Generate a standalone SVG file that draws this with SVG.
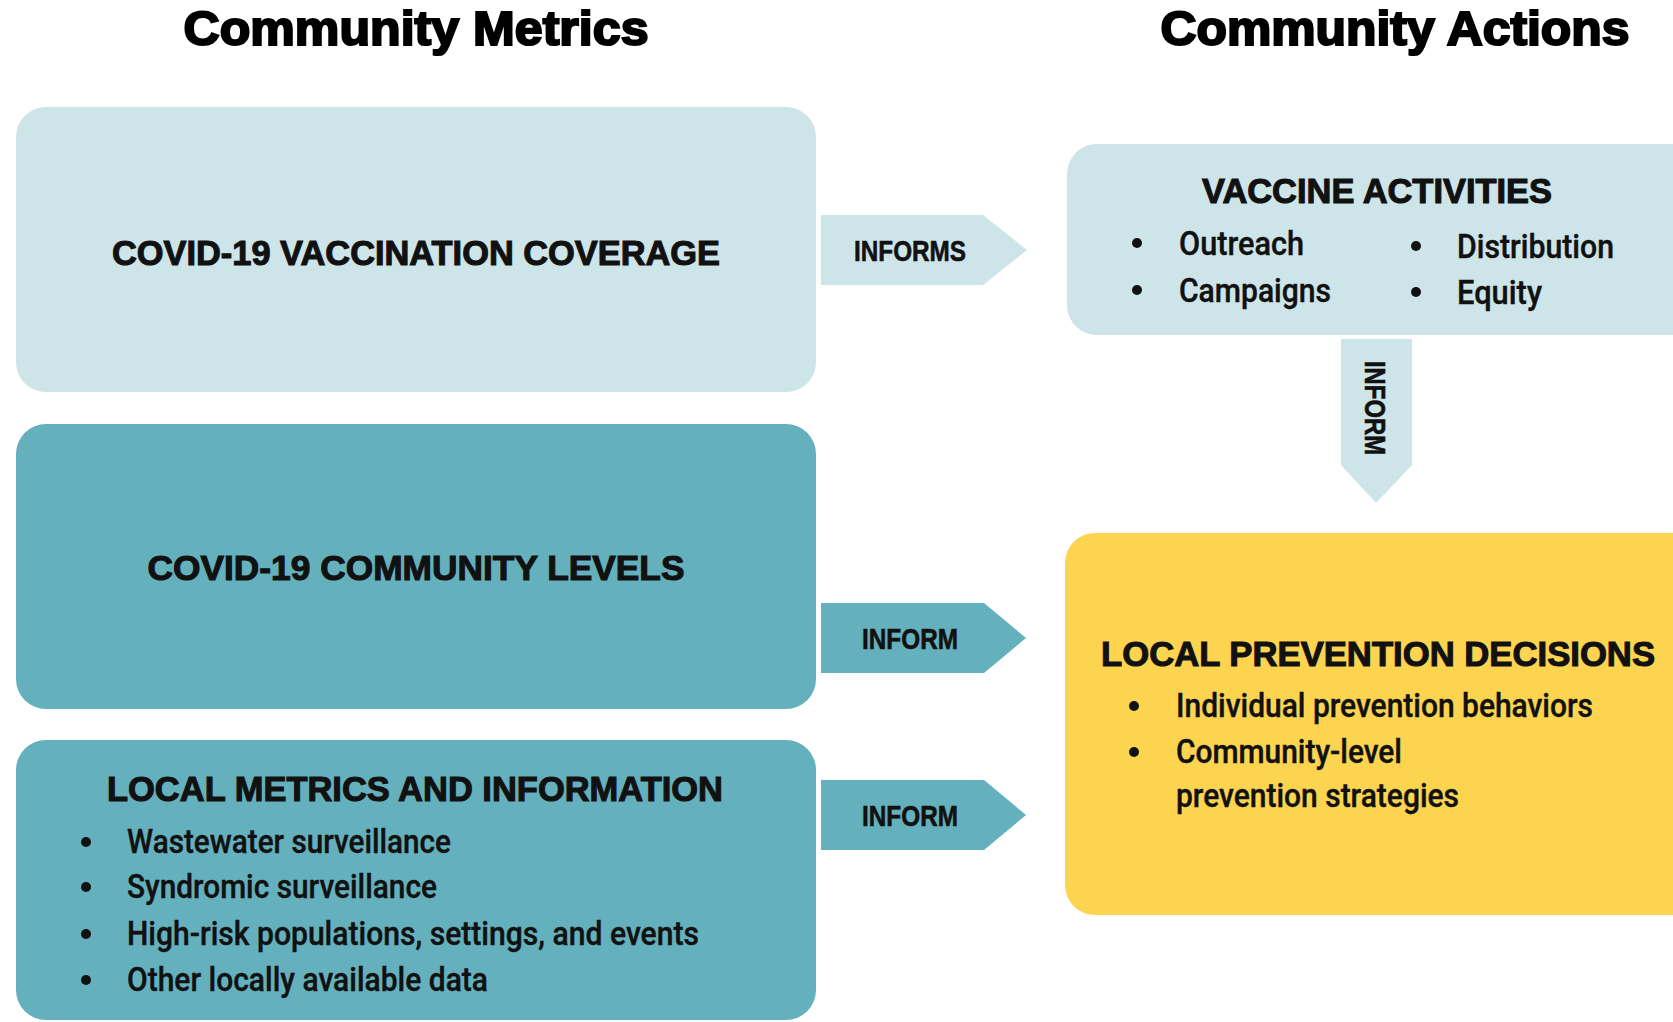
<svg xmlns="http://www.w3.org/2000/svg" width="1673" height="1022" viewBox="0 0 1673 1022">
<style>
.hdr{font-family:"Liberation Sans",Arial,sans-serif;font-weight:bold;font-size:49px;fill:#000;stroke:#000;stroke-width:2.2px;text-anchor:middle}
.ttl{font-family:"Liberation Sans",Arial,sans-serif;font-weight:bold;font-size:35px;fill:#111;stroke:#111;stroke-width:1.1px;text-anchor:middle}
.lbl{font-family:"Liberation Sans",Arial,sans-serif;font-weight:bold;font-size:29px;fill:#111;stroke:#111;stroke-width:0.6px;text-anchor:middle}
.itm{font-family:Roboto,"Liberation Sans",Arial,sans-serif;font-weight:500;font-size:33px;fill:#111;stroke:#111;stroke-width:0.4px}
.light{fill:#cde4e9}
.teal{fill:#64b0bd}
.yellow{fill:#fdd44f}
.dot{fill:#111}
</style>
<rect width="1673" height="1022" fill="#ffffff"/>

<g id="header-metrics"><text class="hdr" x="416" y="45" textLength="465" lengthAdjust="spacingAndGlyphs">Community Metrics</text></g>
<g id="header-actions"><text class="hdr" x="1395" y="45" textLength="469" lengthAdjust="spacingAndGlyphs">Community Actions</text></g>

<g id="vaccination-coverage">
<rect class="light" x="16" y="107" width="800" height="285" rx="30"/>
<text class="ttl" x="416" y="265" textLength="608" lengthAdjust="spacingAndGlyphs">COVID-19 VACCINATION COVERAGE</text>
</g>

<g id="community-levels">
<rect class="teal" x="16" y="424" width="800" height="285" rx="30"/>
<text class="ttl" x="416" y="580" textLength="537" lengthAdjust="spacingAndGlyphs">COVID-19 COMMUNITY LEVELS</text>
</g>

<g id="local-metrics">
<rect class="teal" x="16" y="740" width="800" height="280" rx="30"/>
<text class="ttl" x="415" y="801" textLength="616" lengthAdjust="spacingAndGlyphs">LOCAL METRICS AND INFORMATION</text>
<circle class="dot" cx="86" cy="842" r="5"/>
<text class="itm" x="127" y="853" textLength="324" lengthAdjust="spacingAndGlyphs">Wastewater surveillance</text>
<circle class="dot" cx="86" cy="887" r="5"/>
<text class="itm" x="127" y="898" textLength="310" lengthAdjust="spacingAndGlyphs">Syndromic surveillance</text>
<circle class="dot" cx="86" cy="934" r="5"/>
<text class="itm" x="127" y="945" textLength="572" lengthAdjust="spacingAndGlyphs">High-risk populations, settings, and events</text>
<circle class="dot" cx="86" cy="980" r="5"/>
<text class="itm" x="127" y="991" textLength="361" lengthAdjust="spacingAndGlyphs">Other locally available data</text>
</g>

<g id="vaccine-activities">
<rect class="light" x="1067" y="144" width="640" height="191" rx="30"/>
<text class="ttl" x="1377" y="203" textLength="350" lengthAdjust="spacingAndGlyphs">VACCINE ACTIVITIES</text>
<circle class="dot" cx="1137" cy="243" r="5"/>
<text class="itm" x="1179" y="255" textLength="125" lengthAdjust="spacingAndGlyphs">Outreach</text>
<circle class="dot" cx="1137" cy="290" r="5"/>
<text class="itm" x="1179" y="302" textLength="152" lengthAdjust="spacingAndGlyphs">Campaigns</text>
<circle class="dot" cx="1416" cy="246" r="5"/>
<text class="itm" x="1457" y="258" textLength="157" lengthAdjust="spacingAndGlyphs">Distribution</text>
<circle class="dot" cx="1416" cy="292" r="5"/>
<text class="itm" x="1457" y="304" textLength="85" lengthAdjust="spacingAndGlyphs">Equity</text>
</g>

<g id="local-prevention-decisions">
<rect class="yellow" x="1065" y="533" width="640" height="382" rx="30"/>
<text class="ttl" x="1378" y="666" textLength="554" lengthAdjust="spacingAndGlyphs">LOCAL PREVENTION DECISIONS</text>
<circle class="dot" cx="1134" cy="706" r="5"/>
<text class="itm" x="1176" y="717" textLength="417" lengthAdjust="spacingAndGlyphs">Individual prevention behaviors</text>
<circle class="dot" cx="1134" cy="752" r="5"/>
<text class="itm" x="1176" y="763" textLength="226" lengthAdjust="spacingAndGlyphs">Community-level</text>
<text class="itm" x="1176" y="807" textLength="283" lengthAdjust="spacingAndGlyphs">prevention strategies</text>
</g>

<g id="connectors">
<g id="arrow-informs">
<polygon class="light" points="821,215 983,215 1027,250 983,285 821,285"/>
<text class="lbl" x="910" y="261" textLength="112" lengthAdjust="spacingAndGlyphs">INFORMS</text>
</g>
<g id="arrow-inform-levels">
<polygon class="teal" points="821,603 984,603 1026,638 984,673 821,673"/>
<text class="lbl" x="910" y="649" textLength="96" lengthAdjust="spacingAndGlyphs">INFORM</text>
</g>
<g id="arrow-inform-local">
<polygon class="teal" points="821,780 984,780 1026,815 984,850 821,850"/>
<text class="lbl" x="910" y="826" textLength="96" lengthAdjust="spacingAndGlyphs">INFORM</text>
</g>
<g id="arrow-inform-vertical">
<polygon class="light" points="1341,339 1412,339 1412,465 1376,503 1341,465"/>
<text class="lbl" transform="translate(1365,408) rotate(90)" x="0" y="0" textLength="94" lengthAdjust="spacingAndGlyphs">INFORM</text>
</g>
</g>
</svg>
